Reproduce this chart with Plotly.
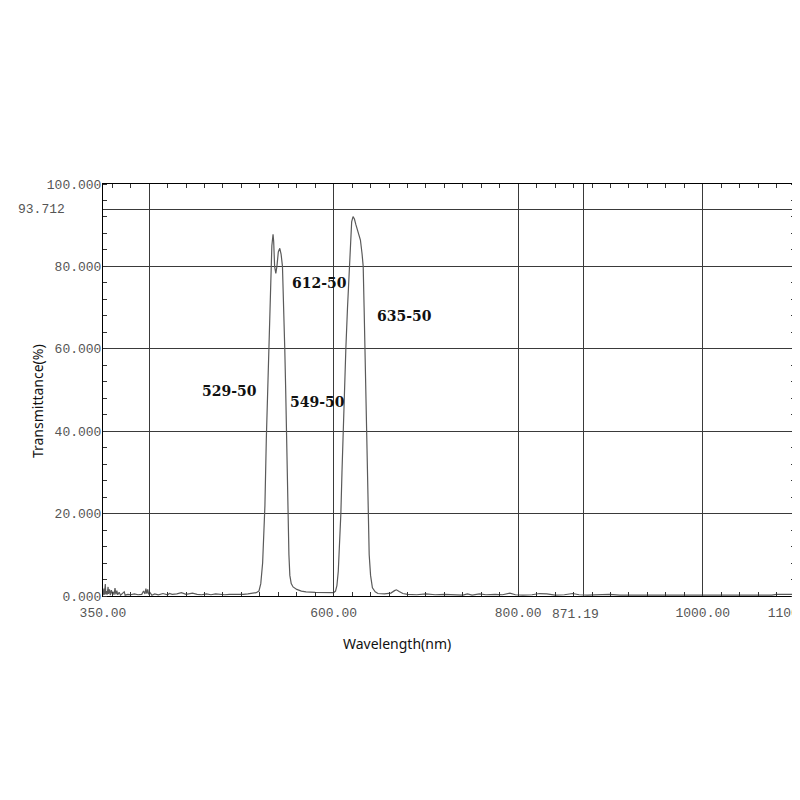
import plotly.graph_objects as go

# ---- spectrum (nm, %T) ----
base_wl = [350, 351, 351.5, 352.5, 353, 354, 354.5, 355.5, 356, 357,
           358, 359, 360, 361, 362, 363, 364, 365, 366, 367.5,
           369, 371, 373, 374, 377, 380, 384, 388, 392, 394,
           395.5, 396.5, 397.5, 398.5, 399.5, 401, 403, 406, 410, 415,
           420, 422, 425, 430, 435, 440, 447, 452, 457, 462,
           467, 472, 477, 482, 487, 492, 497, 502, 507, 512]
base_t = [0.2, 1.8, 0.3, 2.9, 0.4, 1.2, 0.3, 2.2, 0.5, 1.6,
          0.2, 1.4, 0.6, 1.0, 0.3, 1.9, 0.4, 1.3, 0.3, 0.9,
          0.2, 0.6, 1.0, 0.2, 0.4, 0.3, 0.5, 0.3, 0.4, 1.2,
          0.5, 1.8, 0.6, 1.6, 0.4, 0.8, 0.2, 0.5, 0.3, 0.6,
          0.3, 0.6, 0.4, 0.5, 0.8, 0.4, 0.7, 0.4, 0.3, 0.5,
          0.3, 0.5, 0.4, 0.3, 0.4, 0.4, 0.3, 0.4, 0.5, 0.6]

band1_wl = [516, 519, 521, 523, 524.5, 525.5, 527, 528.5, 529.7, 531,
            532, 533, 534.3, 535, 536, 537.3, 538.5, 540, 541.6, 543,
            544.5, 546, 547, 548, 548.8, 549.6, 550.4, 551.5, 552.5, 554,
            556, 560, 565, 570, 580, 590, 596]
band1_t = [0.8, 1.2, 3, 8, 15, 22, 38, 50, 60, 72,
           80, 85, 87.8, 86, 80, 78.3, 80, 83.5, 84.4, 83,
           80, 70, 60, 50, 40, 30, 20, 10, 5, 3,
           2.2, 1.6, 1.2, 1.0, 0.9, 0.8, 0.8]

band2_wl = [598, 600, 602, 603.5, 605, 606.5, 607.8, 609, 610.2, 611.7,
            613.2, 615, 616.8, 617.8, 618.5, 619.5, 621, 622.5, 624, 626.5,
            629, 630.8, 632, 633, 633.8, 634.7, 635.6, 636.5, 637.4, 638.5,
            640, 642, 645, 648, 655, 662, 666, 668, 671, 675]
band2_t = [0.7, 0.8, 1.2, 2.5, 6, 12, 20, 30, 40, 50,
           60, 70, 80, 84, 88, 90.8, 92.1, 91.5, 90.2, 88,
           86.4, 83, 80, 70, 60, 50, 40, 30, 20, 10,
           5, 2, 1.0, 0.6, 0.5, 0.7, 1.3, 1.5, 1.1, 0.6]

tail_wl = [680, 690, 700, 710, 720, 730, 740, 745, 750, 758,
           765, 775, 783, 791, 797, 805, 815, 823, 831, 840,
           850, 859, 866, 875, 885, 899, 910, 925, 943, 960,
           980, 1000, 1020, 1040, 1060, 1075, 1080, 1090, 1098, 1100]
tail_t = [0.4, 0.3, 0.5, 0.3, 0.4, 0.3, 0.2, 0.5, 0.2, 0.5,
          0.3, 0.4, 0.3, 0.7, 0.3, 0.2, 0.3, 0.6, 0.5, 0.2,
          0.3, 0.6, 0.3, 0.2, 0.3, 0.4, 0.2, 0.2, 0.3, 0.2,
          0.2, 0.2, 0.3, 0.2, 0.2, 0.2, 0.4, 0.4, 0.4, 0.4]

# axis ticks / grid
x_ticks = [350, 400, 600, 800, 871.19, 1000, 1100]
x_labels = ["350.00", "", "600.00", "800.00", "", "1000.00", "1100.00"]
y_ticks = [0, 20, 40, 60, 80, 93.712, 100]
y_labels = ["0.000", "20.000", "40.000", "60.000", "80.000", "", "100.000"]

# filter names written on the plot
filters = ["529-50", "612-50", "635-50", "549-50"]
filter_x = [487.4, 585, 677.2, 582.8]
filter_y = [49.8, 76.0, 68.0, 47.1]

wl = base_wl + band1_wl + band2_wl + tail_wl
tr = base_t + band1_t + band2_t + tail_t

tick_font = dict(family="Liberation Mono", size=13, color="#555555")

fig = go.Figure()
fig.add_trace(go.Scatter(x=wl, y=tr, mode="lines",
                         line=dict(color="#5a5a5a", width=1.2),
                         showlegend=False, hoverinfo="skip"))

for name, fx, fy in zip(filters, filter_x, filter_y):
    fig.add_annotation(x=fx, y=fy, xref="x", yref="y", text="<b>" + name + "</b>", showarrow=False,
                       font=dict(family="DejaVu Serif", size=14, color="#111111"),
                       xanchor="center", yanchor="middle")

# the odd labels that sit off the normal tick positions
fig.add_annotation(x=350, y=93.712, xref="x", yref="y", text="93.712", showarrow=False,
                   xshift=-36, xanchor="right", yanchor="middle", font=tick_font)
fig.add_annotation(x=871.19, y=-0.0437, xref="x", yref="paper", text="871.19", showarrow=False,
                   xshift=-8, xanchor="center", yanchor="middle", font=tick_font)

fig.add_annotation(x=0.425, y=-0.1165, xref="paper", yref="paper", text="Wavelength(nm)",
                   showarrow=False, xanchor="center", yanchor="middle",
                   font=dict(family="Noto Sans", size=14, color="#111111"))
fig.add_annotation(x=-0.0954, y=0.473, xref="paper", yref="paper", text="Transmittance(%)",
                   textangle=-90, showarrow=False, xanchor="center", yanchor="middle",
                   font=dict(family="Noto Sans", size=14, color="#111111"))

fig.update_xaxes(range=[350, 1100], tickmode="array", tickvals=x_ticks, ticktext=x_labels,
                 showgrid=True, gridcolor="#3a3a3a", gridwidth=1, automargin=False,
                 showline=True, linecolor="black", linewidth=1, mirror="ticks",
                 ticks="", tickfont=tick_font, ticklabelstandoff=4, zeroline=False,
                 ticklabeloverflow="allow",
                 minor=dict(tickmode="linear", tick0=0, dtick=20, ticks="inside",
                            ticklen=4, tickcolor="#333333", showgrid=False))
fig.update_yaxes(range=[0, 100], tickmode="array", tickvals=y_ticks, ticktext=y_labels,
                 showgrid=True, gridcolor="#3a3a3a", gridwidth=1, automargin=False,
                 showline=True, linecolor="black", linewidth=1, mirror="ticks",
                 ticks="", tickfont=tick_font, ticklabelstandoff=-2, zeroline=False,
                 minor=dict(tickmode="linear", tick0=0, dtick=4, ticks="inside",
                            ticklen=4, tickcolor="#333333", showgrid=False))

# page body adds ~8px offset, so the margins are shifted to land the plot where the scan has it
fig.update_layout(width=800, height=800, paper_bgcolor="white", plot_bgcolor="white",
                  margin=dict(l=95, r=13, t=176, b=212), showlegend=False)

fig.write_html("out.html")
